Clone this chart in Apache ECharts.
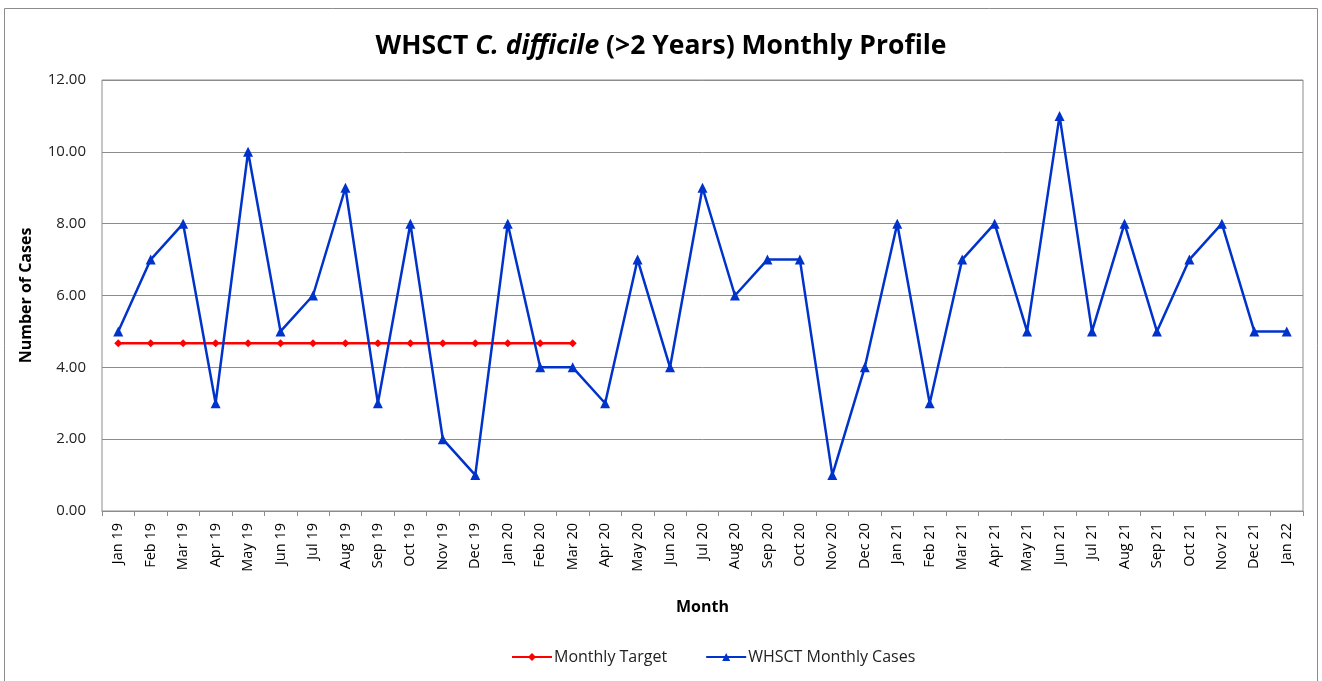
<!DOCTYPE html>
<html><head><meta charset="utf-8">
<script src="https://cdn.jsdelivr.net/npm/echarts@6/dist/echarts.min.js"></script>
<style>html,body{margin:0;padding:0;background:#fff}#c{width:1322px;height:681px}</style>
</head><body><div id="c"></div>
<script>
const categories = ["Jan 19","Feb 19","Mar 19","Apr 19","May 19","Jun 19","Jul 19","Aug 19","Sep 19","Oct 19","Nov 19","Dec 19",
"Jan 20","Feb 20","Mar 20","Apr 20","May 20","Jun 20","Jul 20","Aug 20","Sep 20","Oct 20","Nov 20","Dec 20",
"Jan 21","Feb 21","Mar 21","Apr 21","May 21","Jun 21","Jul 21","Aug 21","Sep 21","Oct 21","Nov 21","Dec 21","Jan 22"];
const monthlyCases = [5,7,8,3,10,5,6,9,3,8,2,1,8,4,4,3,7,4,9,6,7,7,1,4,8,3,7,8,5,11,5,8,5,7,8,5,5];
const monthlyTarget = [4.67,4.67,4.67,4.67,4.67,4.67,4.67,4.67,4.67,4.67,4.67,4.67,4.67,4.67,4.67];
const yTicks = {min:0, max:12, interval:2};

const font = "'Open Sans', 'Liberation Sans', sans-serif";
const chart = echarts.init(document.getElementById('c'));
chart.setOption({
  animation:false,
  backgroundColor:'#fff',
  graphic:[{type:'rect', shape:{x:4.5,y:8.5,width:1313,height:680}, style:{fill:'none', stroke:'#8c8c8c', lineWidth:1}, silent:true}],
  title:{
    text:'WHSCT {i|C. difficile} (>2 Years) Monthly Profile',
    left:'center', top:28,
    textStyle:{fontFamily:font, fontSize:26.5, fontWeight:'bold', color:'#000',
      rich:{i:{fontFamily:font, fontSize:26.5, fontWeight:'bold', fontStyle:'italic', color:'#000'}}}
  },
  legend:{
    bottom:11, left:506, itemGap:38, itemWidth:40, itemHeight:10,
    textStyle:{fontFamily:font, fontSize:16, color:'#222', padding:[0,0,0,-3]},
    data:['Monthly Target','WHSCT Monthly Cases']
  },
  grid:{left:102, right:19, top:80, bottom:170, show:true, borderColor:'#8c8c8c', borderWidth:1},
  xAxis:{
    type:'category', data:categories, boundaryGap:true,
    name:'Month', nameLocation:'middle', nameGap:88,
    nameTextStyle:{fontFamily:font, fontSize:16, fontWeight:'bold', color:'#000'},
    axisLine:{lineStyle:{color:'#8c8c8c'}},
    axisTick:{show:true, alignWithLabel:false, length:5, lineStyle:{color:'#8c8c8c'}},
    axisLabel:{rotate:90, interval:0, fontFamily:font, fontSize:14.5, color:'#000', margin:12}
  },
  yAxis:{
    type:'value', min:yTicks.min, max:yTicks.max, interval:yTicks.interval,
    name:'Number of Cases', nameLocation:'middle', nameGap:68,
    nameTextStyle:{fontFamily:font, fontSize:16, fontWeight:'bold', color:'#000'},
    axisLine:{show:false}, axisTick:{show:false},
    splitLine:{lineStyle:{color:'#8c8c8c', width:1}},
    axisLabel:{fontFamily:font, fontSize:15, color:'#222', margin:16, formatter:v=>v.toFixed(2)}
  },
  series:[
    {name:'Monthly Target', type:'line', data:monthlyTarget, symbol:'diamond', symbolSize:8,
     color:'#ff0000', lineStyle:{width:2.5, color:'#ff0000'}, itemStyle:{color:'#ff0000'}, z:3},
    {name:'WHSCT Monthly Cases', type:'line', data:monthlyCases, symbol:'triangle', symbolSize:10,
     color:'#0033cc', lineStyle:{width:2.5, color:'#0033cc'}, itemStyle:{color:'#0033cc'}, z:4}
  ]
});
</script></body></html>
